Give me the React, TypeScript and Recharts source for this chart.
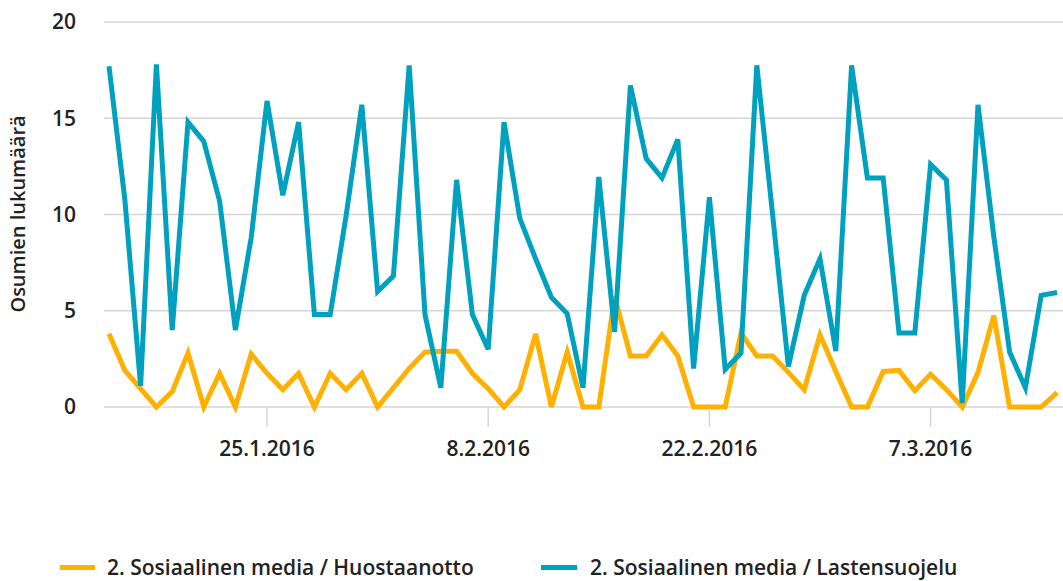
import { LineChart, Line, XAxis, YAxis, CartesianGrid } from "recharts";

const COLORS = {
  orange: "#FFB000",
  teal: "#00A1BE",
  grid: "#d6d6d6",
  text: "#222222",
};

const FONT = "'Open Sans', 'DejaVu Sans', sans-serif";

const dates = [
  "15.1.2016", "16.1.2016", "17.1.2016", "18.1.2016", "19.1.2016", "20.1.2016", "21.1.2016", "22.1.2016",
  "23.1.2016", "24.1.2016", "25.1.2016", "26.1.2016", "27.1.2016", "28.1.2016", "29.1.2016", "30.1.2016",
  "31.1.2016", "1.2.2016", "2.2.2016", "3.2.2016", "4.2.2016", "5.2.2016", "6.2.2016", "7.2.2016",
  "8.2.2016", "9.2.2016", "10.2.2016", "11.2.2016", "12.2.2016", "13.2.2016", "14.2.2016", "15.2.2016",
  "16.2.2016", "17.2.2016", "18.2.2016", "19.2.2016", "20.2.2016", "21.2.2016", "22.2.2016", "23.2.2016",
  "24.2.2016", "25.2.2016", "26.2.2016", "27.2.2016", "28.2.2016", "29.2.2016", "1.3.2016", "2.3.2016",
  "3.3.2016", "4.3.2016", "5.3.2016", "6.3.2016", "7.3.2016", "8.3.2016", "9.3.2016", "10.3.2016",
  "11.3.2016", "12.3.2016", "13.3.2016", "14.3.2016", "15.3.2016",
];

// 2. Sosiaalinen media / Huostaanotto
const huostaanotto = [
  3.8, 1.9, 0.95, 0, 0.8, 2.8, 0, 1.75, 0, 2.75,
  1.75, 0.9, 1.75, 0, 1.75, 0.9, 1.75, 0, 1.0, 2.0,
  2.85, 2.9, 2.9, 1.75, 0.95, 0, 0.9, 3.8, 0, 2.85,
  0, 0, 5.75, 2.65, 2.65, 3.75, 2.65, 0, 0, 0,
  3.85, 2.65, 2.65, 1.8, 0.9, 3.75, 1.85, 0, 0, 1.85,
  1.9, 0.85, 1.7, 0.9, 0, 1.8, 4.75, 0, 0, 0,
  0.75,
];

// 2. Sosiaalinen media / Lastensuojelu
const lastensuojelu = [
  17.7, 10.8, 1.1, 17.8, 4.0, 14.8, 13.8, 10.7, 4.0, 8.8,
  15.9, 11.0, 14.8, 4.8, 4.8, 9.9, 15.7, 6.0, 6.8, 17.75,
  4.8, 1.0, 11.8, 4.8, 3.0, 14.8, 9.8, 7.7, 5.7, 4.85,
  1.0, 11.95, 3.9, 16.7, 12.9, 11.9, 13.9, 2.0, 10.9, 1.95,
  2.8, 17.75, 10.0, 2.1, 5.8, 7.7, 2.9, 17.75, 11.9, 11.9,
  3.85, 3.85, 12.6, 11.8, 0.2, 15.7, 8.85, 2.86, 1.0, 5.8,
  5.95,
];

const xTicks = ["25.1.2016", "8.2.2016", "22.2.2016", "7.3.2016"];
const yTicks = [0, 5, 10, 15, 20];

const data = dates.map((d, i) => ({
  date: d,
  huostaanotto: huostaanotto[i],
  lastensuojelu: lastensuojelu[i],
}));

function YTitle() {
  return (
    <text
      x={17}
      y={214}
      transform="rotate(-90 17 214)"
      textAnchor="middle"
      dominantBaseline="central"
      fill={COLORS.text}
      style={{ fontFamily: FONT, fontSize: 20, fontWeight: 600 }}
    >
      Osumien lukumäärä
    </text>
  );
}

export default function App() {
  const tickStyle = { fontSize: 21, fill: COLORS.text, fontFamily: FONT, fontWeight: 600 };

  return (
    <div style={{ position: "absolute", left: 0, top: 0, width: 1063, height: 581, background: "#fff", overflow: "hidden" }}>
      <LineChart width={1063} height={470} data={data} margin={{ top: 22, right: 0, bottom: 13, left: 0 }}>
        <CartesianGrid vertical={false} stroke={COLORS.grid} strokeWidth={1.5} />
        <XAxis
          dataKey="date"
          ticks={xTicks}
          interval={0}
          height={50}
          axisLine={false}
          tickSize={20}
          tickMargin={14}
          tickLine={{ stroke: COLORS.grid, strokeWidth: 1.5 }}
          tick={tickStyle}
          padding={{ left: 5, right: 6 }}
        />
        <YAxis
          width={104}
          domain={[0, 20]}
          ticks={yTicks}
          axisLine={false}
          tickLine={false}
          tickSize={0}
          tickMargin={28}
          tick={tickStyle}
          label={<YTitle />}
        />
        <Line
          type="linear"
          dataKey="huostaanotto"
          name="2. Sosiaalinen media / Huostaanotto"
          stroke={COLORS.orange}
          strokeWidth={5}
          dot={false}
          isAnimationActive={false}
        />
        <Line
          type="linear"
          dataKey="lastensuojelu"
          name="2. Sosiaalinen media / Lastensuojelu"
          stroke={COLORS.teal}
          strokeWidth={5}
          dot={false}
          isAnimationActive={false}
        />
      </LineChart>

      <div style={{ position: "absolute", top: 555, left: 60, height: 24, lineHeight: "24px", display: "flex", alignItems: "center", fontFamily: FONT, fontSize: 21, fontWeight: 600, color: COLORS.text, whiteSpace: "nowrap" }}>
        <span style={{ display: "flex", alignItems: "center", width: 481 }}>
          <span style={{ width: 35, height: 5, background: COLORS.orange, marginRight: 12 }} />
          2. Sosiaalinen media / Huostaanotto
        </span>
        <span style={{ display: "flex", alignItems: "center" }}>
          <span style={{ width: 36, height: 5, background: COLORS.teal, marginRight: 13 }} />
          2. Sosiaalinen media / Lastensuojelu
        </span>
      </div>
    </div>
  );
}
